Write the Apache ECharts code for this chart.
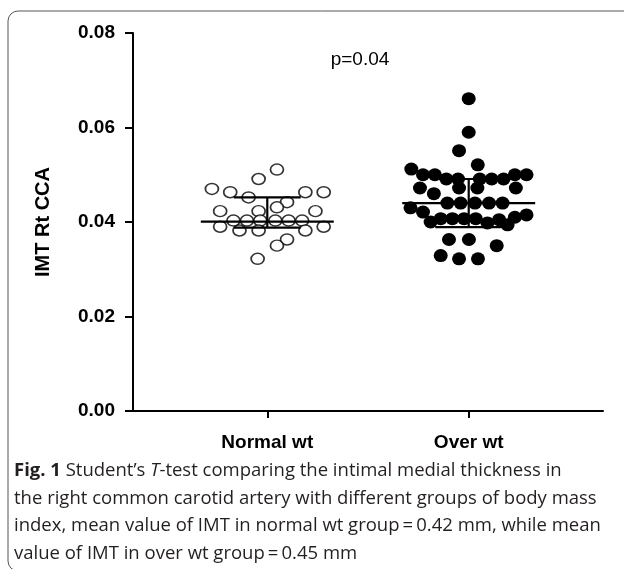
<!DOCTYPE html>
<html>
<head>
<meta charset="utf-8">
<script src="https://cdn.jsdelivr.net/npm/echarts@6/dist/echarts.min.js"></script>
<style>
  html, body { margin: 0; padding: 0; background: #fff; }
  #chart { width: 624px; height: 569px; }
</style>
</head>
<body>
<div id="chart"></div>
<script>
// groups on the x axis (Normal = 1, Over = 2)
const groups = ['Normal wt', 'Over wt'];
const yTicks = [0, 0.02, 0.04, 0.06, 0.08];

// IMT values, with the horizontal scatter offset of each dot
const normalIMT = [0.0511, 0.0491, 0.0470, 0.0463, 0.0452, 0.0463, 0.0463, 0.0442, 0.0431,
  0.0423, 0.0423, 0.0423, 0.0403, 0.0403, 0.0403, 0.0403, 0.0403, 0.0403,
  0.0390, 0.0390, 0.0382, 0.0382, 0.0382, 0.0363, 0.0350, 0.0322];
const normalJitter = [0.048, -0.043, -0.275, -0.184, -0.093, 0.189, 0.280, 0.098, 0.048,
  -0.234, -0.043, 0.239, -0.168, -0.101, -0.035, 0.040, 0.106, 0.173,
  -0.234, 0.280, -0.138, -0.043, 0.189, 0.098, 0.048, -0.048];

const overIMT = [0.0661, 0.0590, 0.0551, 0.0521,
  0.0512, 0.0500, 0.0500, 0.0491, 0.0491, 0.0491, 0.0491, 0.0491, 0.0500, 0.0500,
  0.0472, 0.0460, 0.0472, 0.0472, 0.0472,
  0.0440, 0.0440, 0.0440, 0.0440, 0.0440,
  0.0430, 0.0421, 0.0415, 0.0410,
  0.0400, 0.0407, 0.0407, 0.0407, 0.0407, 0.0398, 0.0405, 0.0394,
  0.0363, 0.0363, 0.0350, 0.0329, 0.0322, 0.0322];
const overJitter = [0, 0, -0.048, 0.045,
  -0.285, -0.227, -0.168, -0.111, -0.053, 0.055, 0.114, 0.173, 0.229, 0.287,
  -0.242, -0.173, -0.048, 0.043, 0.234,
  -0.106, -0.040, 0.031, 0.101, 0.168,
  -0.289, -0.227, 0.287, 0.229,
  -0.189, -0.139, -0.081, -0.023, 0.035, 0.093, 0.151, 0.193,
  -0.098, 0.001, 0.139, -0.139, -0.048, 0.046];

// mean line and error bar ends for each group
const groupMean = [0.0401, 0.0440];
const barUpper = [0.0452, 0.0491];
const barLower = [0.0388, 0.0389];

const chart = echarts.init(document.getElementById('chart'));

const toPoints = (vals, jit, center) => vals.map((v, i) => [center + jit[i], v]);

const statsData = groups.map((g, i) => [i + 1, groupMean[i], barUpper[i], barLower[i]]);

function renderStats(params, api) {
  const x = api.value(0);
  const mean = api.coord([x, api.value(1)]);
  const up = api.coord([x, api.value(2)]);
  const lo = api.coord([x, api.value(3)]);
  const half = api.size([0.33, 0])[0];
  const cap = api.size([0.166, 0])[0];
  const st = { stroke: '#000', lineWidth: 2.2 };
  return {
    type: 'group',
    children: [
      { type: 'line', shape: { x1: mean[0] - half, y1: mean[1], x2: mean[0] + half, y2: mean[1] }, style: st },
      { type: 'line', shape: { x1: up[0], y1: up[1], x2: lo[0], y2: lo[1] }, style: st },
      { type: 'line', shape: { x1: up[0] - cap, y1: up[1], x2: up[0] + cap, y2: up[1] }, style: st },
      { type: 'line', shape: { x1: lo[0] - cap, y1: lo[1], x2: lo[0] + cap, y2: lo[1] }, style: st }
    ]
  };
}

const axisFont = 'Liberation Sans, Arial, sans-serif';
const capFont = '"Open Sans", "Noto Sans", sans-serif';
const capSize = 18.5;
const capRich = {
  b: { fontFamily: capFont, fontWeight: 'bold', fontSize: capSize, fill: '#231f20' },
  n: { fontFamily: capFont, fontSize: capSize, fill: '#231f20' },
  i: { fontFamily: capFont, fontSize: capSize, fontStyle: 'italic', fill: '#231f20' }
};
const captionLines = [
  '{b|Fig. 1}{n| Student\u2019s }{i|T}{n|-test comparing the intimal medial thickness in}',
  '{n|the right common carotid artery with different groups of body mass}',
  '{n|index, mean value of IMT in normal wt group\u2009=\u20090.42 mm, while mean}',
  '{n|value of IMT in over wt group\u2009=\u20090.45 mm}'
];

const option = {
  animation: false,
  backgroundColor: '#fff',
  grid: { left: 133, right: 21, top: 33, bottom: 158 },
  xAxis: {
    type: 'value',
    min: 1 / 3,
    max: 8 / 3,
    axisLine: { lineStyle: { color: '#000', width: 2 } },
    axisTick: { show: true, customValues: [1, 2], length: 7, lineStyle: { color: '#000', width: 2 } },
    axisLabel: {
      customValues: [1, 2],
      formatter: v => groups[Math.round(v) - 1] || '',
      fontFamily: axisFont,
      fontWeight: 'bold',
      fontSize: 19,
      color: '#000',
      margin: 22
    },
    splitLine: { show: false }
  },
  yAxis: {
    type: 'value',
    min: yTicks[0],
    max: yTicks[yTicks.length - 1],
    interval: 0.02,
    name: 'IMT Rt CCA',
    nameLocation: 'middle',
    nameRotate: 90,
    nameGap: 80,
    nameTextStyle: { fontFamily: axisFont, fontWeight: 'bold', fontSize: 20, color: '#000' },
    axisLine: { show: true, lineStyle: { color: '#000', width: 2 } },
    axisTick: { show: true, length: 8, lineStyle: { color: '#000', width: 2 } },
    axisLabel: {
      formatter: v => v.toFixed(2),
      fontFamily: axisFont,
      fontWeight: 'bold',
      fontSize: 19,
      color: '#000',
      margin: 18
    },
    splitLine: { show: false }
  },
  graphic: [
    {
      type: 'rect', z: -1, silent: true,
      shape: { x: 8, y: 11, width: 700, height: 560, r: 10 },
      style: { fill: 'none', stroke: '#555', lineWidth: 1 }
    },
    {
      type: 'text', x: 360, y: 60,
      style: { text: 'p=0.04', fontFamily: axisFont, fontSize: 19, fill: '#000', align: 'center', verticalAlign: 'middle' }
    },
    ...captionLines.map((t, i) => ({
      type: 'text', x: 14, y: 471 + i * 27.5,
      style: { text: t, rich: capRich, verticalAlign: 'middle' }
    }))
  ],
  series: [
    {
      name: groups[0],
      type: 'scatter',
      symbol: 'circle',
      symbolSize: [13, 11],
      itemStyle: { color: '#fff', borderColor: '#000', borderWidth: 1.6 },
      data: toPoints(normalIMT, normalJitter, 1),
      z: 2
    },
    {
      name: groups[1],
      type: 'scatter',
      symbol: 'circle',
      symbolSize: [14, 13],
      itemStyle: { color: '#000', opacity: 1 },
      data: toPoints(overIMT, overJitter, 2),
      z: 2
    },
    {
      type: 'custom',
      renderItem: renderStats,
      data: statsData,
      z: 3,
      silent: true
    }
  ]
};

chart.setOption(option);
</script>
</body>
</html>
